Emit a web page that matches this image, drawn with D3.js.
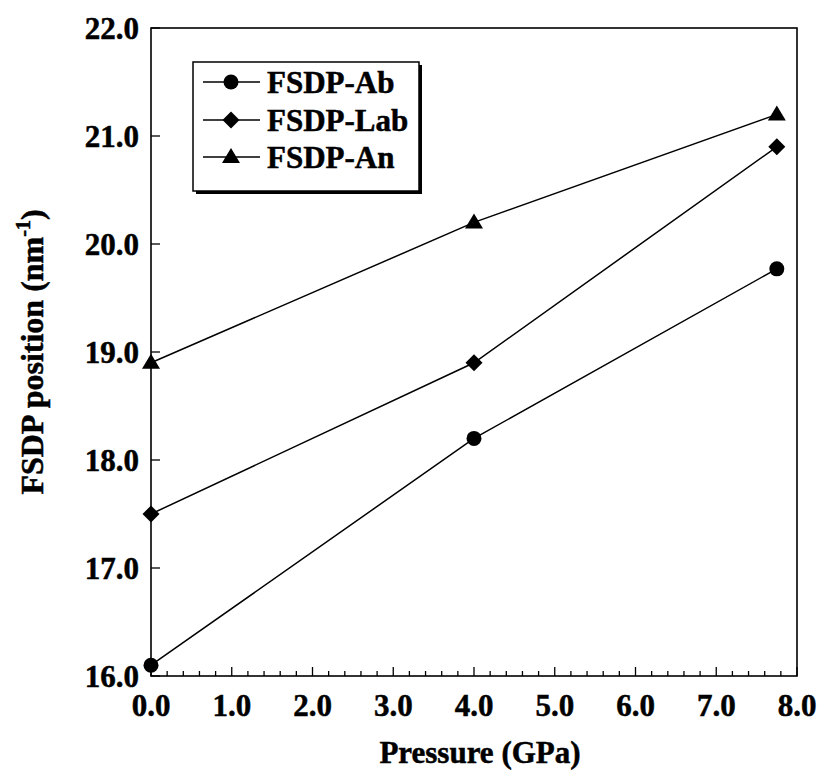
<!DOCTYPE html>
<html><head><meta charset="utf-8">
<script src="https://cdn.jsdelivr.net/npm/d3@7"></script>
<style>
body{margin:0;background:#fff;}
text{font-family:"Liberation Serif","Times New Roman",serif;font-weight:bold;fill:#000;stroke:#000;stroke-width:0.5px;}
</style></head>
<body><svg id="c" width="820" height="776"></svg>
<script>
const pressure = [0.0, 4.0, 7.75];
const fsdpAb  = [16.1, 18.2, 19.77];
const fsdpLab = [17.5, 18.9, 20.9];
const fsdpAn  = [18.9, 20.2, 21.2];
const seriesNames = ["FSDP-Ab", "FSDP-Lab", "FSDP-An"];
const xTicks = [0,1,2,3,4,5,6,7,8];
const yTicks = [16,17,18,19,20,21,22];

const svg = d3.select("#c");
const L=151, R=797, T=28, B=676;
const x = d3.scaleLinear().domain([0,8]).range([L,R]);
const y = d3.scaleLinear().domain([16,22]).range([B,T]);

// frame
svg.append("rect").attr("x",L).attr("y",T).attr("width",R-L).attr("height",B-T)
  .attr("fill","none").attr("stroke","#000").attr("stroke-width",1.6);

// x axis minor & major ticks (inward)
const minor = d3.range(0,8.0001,0.2);
svg.append("g").selectAll("line").data(minor).join("line")
  .attr("x1",d=>x(d)).attr("x2",d=>x(d)).attr("y1",B)
  .attr("y2",(d)=>Math.abs(d-Math.round(d))<1e-6 ? B-9 : B-5)
  .attr("stroke","#000").attr("stroke-width",1.3);
svg.append("g").selectAll("text").data(xTicks).join("text")
  .attr("x",d=>x(d)).attr("y",B+40).attr("text-anchor","middle")
  .attr("font-size",31).text(d=>d.toFixed(1));

// y axis ticks
svg.append("g").selectAll("line").data(yTicks).join("line")
  .attr("x1",L).attr("x2",L+9).attr("y1",d=>y(d)).attr("y2",d=>y(d))
  .attr("stroke","#000").attr("stroke-width",1.3);
svg.append("g").selectAll("text").data(yTicks).join("text")
  .attr("x",L-12).attr("y",d=>y(d)).attr("dy","0.35em").attr("text-anchor","end")
  .attr("font-size",31).text(d=>d.toFixed(1));

// axis titles
svg.append("text").attr("x",480).attr("y",763).attr("text-anchor","middle")
  .attr("font-size",31).text("Pressure (GPa)");
const yt = svg.append("text").attr("transform","translate(43,352) rotate(-90)")
  .attr("text-anchor","middle").attr("font-size",32);
yt.append("tspan").text("FSDP position (nm");
yt.append("tspan").attr("font-size",20).attr("dy",-13).text("-1");
yt.append("tspan").attr("dy",13).text(")");

// markers
function marker(g, type, cx, cy){
  if(type===0){
    g.append("circle").attr("cx",cx).attr("cy",cy).attr("r",7.5).attr("fill","#000");
  } else if(type===1){
    g.append("path").attr("d",`M${cx},${cy-8.5}L${cx+8.5},${cy}L${cx},${cy+8.5}L${cx-8.5},${cy}Z`).attr("fill","#000");
  } else {
    g.append("path").attr("d",`M${cx},${cy-9}L${cx+9},${cy+6}L${cx-9},${cy+6}Z`).attr("fill","#000");
  }
}

const all = [fsdpAb, fsdpLab, fsdpAn];
const line = d3.line().x(d=>x(d[0])).y(d=>y(d[1]));
all.forEach((vals,i)=>{
  const pts = pressure.map((p,j)=>[p,vals[j]]);
  svg.append("path").attr("d",line(pts)).attr("fill","none").attr("stroke","#000").attr("stroke-width",1.5);
  const g = svg.append("g");
  pts.forEach(p=>marker(g,i,x(p[0]),y(p[1])));
});

// legend
const lg = svg.append("g");
lg.append("rect").attr("x",196).attr("y",65).attr("width",226).attr("height",129).attr("fill","#000");
lg.append("rect").attr("x",193).attr("y",62).attr("width",226).attr("height",129)
  .attr("fill","#fff").attr("stroke","#000").attr("stroke-width",1.5);
const rowsY=[82,120,157];
seriesNames.forEach((n,i)=>{
  lg.append("line").attr("x1",203).attr("x2",260).attr("y1",rowsY[i]).attr("y2",rowsY[i])
    .attr("stroke","#000").attr("stroke-width",1.5);
  marker(lg,i,231,rowsY[i]);
  lg.append("text").attr("x",267).attr("y",rowsY[i]).attr("dy","0.35em")
    .attr("font-size",31).text(n);
});
</script></body></html>
